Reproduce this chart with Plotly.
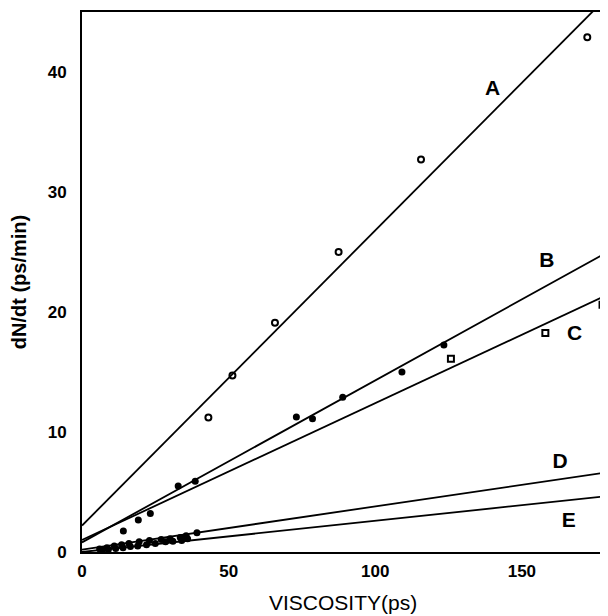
import plotly.graph_objects as go

# ---- data ----
line_names = ["A", "B", "C", "D", "E"]
line_intercepts = [2.2, 0.8, 1.0, 0.2, 0.0]
line_slopes = [0.246, 0.135, 0.114, 0.036, 0.026]
label_x = [140, 158.5, 168, 163, 166]
label_y = [38.5, 24.2, 18.1, 7.4, 2.5]

a_x = [43.1, 51.3, 65.8, 87.5, 115.6, 172.3]
a_y = [11.2, 14.7, 19.1, 25.0, 32.7, 42.9]

b_x = [14.1, 19.2, 23.3, 32.8, 38.6, 73.1, 78.6, 88.9, 109.1, 123.4]
b_y = [1.75, 2.67, 3.2, 5.5, 5.9, 11.25, 11.1, 12.9, 15.0, 17.25]

c_x = [125.8, 158.0, 177.5]
c_y = [16.1, 18.25, 20.6]

d_x = [6, 8.5, 11, 13.5, 16, 19.5, 23, 27, 30, 33.5, 35.5, 39.2]
d_y = [0.25, 0.35, 0.5, 0.6, 0.7, 0.85, 0.95, 1.05, 1.1, 1.2, 1.35, 1.6]

e_x = [7, 9, 11.5, 14, 16.5, 19, 22, 25, 28.5, 31, 34, 36]
e_y = [0.15, 0.2, 0.3, 0.35, 0.45, 0.5, 0.6, 0.7, 0.85, 0.9, 0.95, 1.1]

x_ticks = [0, 50, 100, 150]
y_ticks = [0, 10, 20, 30, 40]
x_range = [0, 178]
y_range = [0, 45]
x_title = "VISCOSITY(ps)"
y_title = "dN/dt (ps/min)"

FONT = "Liberation Sans"

fig = go.Figure()

# fitted lines
for name, b0, m in zip(line_names, line_intercepts, line_slopes):
    xs = [x_range[0], x_range[1]]
    ys = [b0 + m * xs[0], b0 + m * xs[1]]
    fig.add_trace(go.Scatter(x=xs, y=ys, mode="lines",
                             line=dict(color="black", width=1.8),
                             showlegend=False, hoverinfo="skip"))

# data points
fig.add_trace(go.Scatter(x=a_x, y=a_y, mode="markers",
                         marker=dict(symbol="circle-open", size=6, color="black",
                                     line=dict(width=2)), showlegend=False))
fig.add_trace(go.Scatter(x=b_x, y=b_y, mode="markers",
                         marker=dict(symbol="circle", size=7, color="black"),
                         showlegend=False))
fig.add_trace(go.Scatter(x=c_x, y=c_y, mode="markers",
                         marker=dict(symbol="square-open", size=6, color="black",
                                     line=dict(width=2)), showlegend=False,
                         cliponaxis=False))
fig.add_trace(go.Scatter(x=d_x, y=d_y, mode="markers",
                         marker=dict(symbol="circle", size=7, color="black"),
                         showlegend=False))
fig.add_trace(go.Scatter(x=e_x, y=e_y, mode="markers",
                         marker=dict(symbol="circle", size=7, color="black"),
                         showlegend=False))

# line labels
fig.add_trace(go.Scatter(x=label_x, y=label_y, mode="text", text=line_names,
                         textfont=dict(family=FONT, size=21, color="black",
                                       weight="bold"),
                         showlegend=False, hoverinfo="skip"))

# page body has an 8px margin, so the figure is 600x608 to fill the window
fig.update_layout(
    width=600, height=608,
    margin=dict(l=74, r=4, t=4, b=64, autoexpand=False),
    paper_bgcolor="white", plot_bgcolor="white",
    font=dict(family=FONT, color="black"),
)
fig.add_annotation(text=x_title, xref="paper", yref="paper", x=0.5, y=-0.093,
                   xanchor="center", yanchor="middle", showarrow=False,
                   font=dict(family=FONT, size=21, color="black"))
fig.update_xaxes(range=x_range, tickvals=x_ticks, showgrid=False, zeroline=False,
                 showline=True, linecolor="black", linewidth=2, mirror=True,
                 ticks="", ticklabelstandoff=3, automargin=False,
                 tickfont=dict(family=FONT, size=17, weight="bold"))
fig.update_yaxes(range=y_range, tickvals=y_ticks, showgrid=False, zeroline=False,
                 showline=True, linecolor="black", linewidth=2, mirror=True,
                 ticks="", ticklabelstandoff=10, automargin=False,
                 tickfont=dict(family=FONT, size=17, weight="bold"),
                 title=dict(text=y_title, standoff=16,
                            font=dict(family=FONT, size=20, weight="bold")))

fig.write_html("out.html")
